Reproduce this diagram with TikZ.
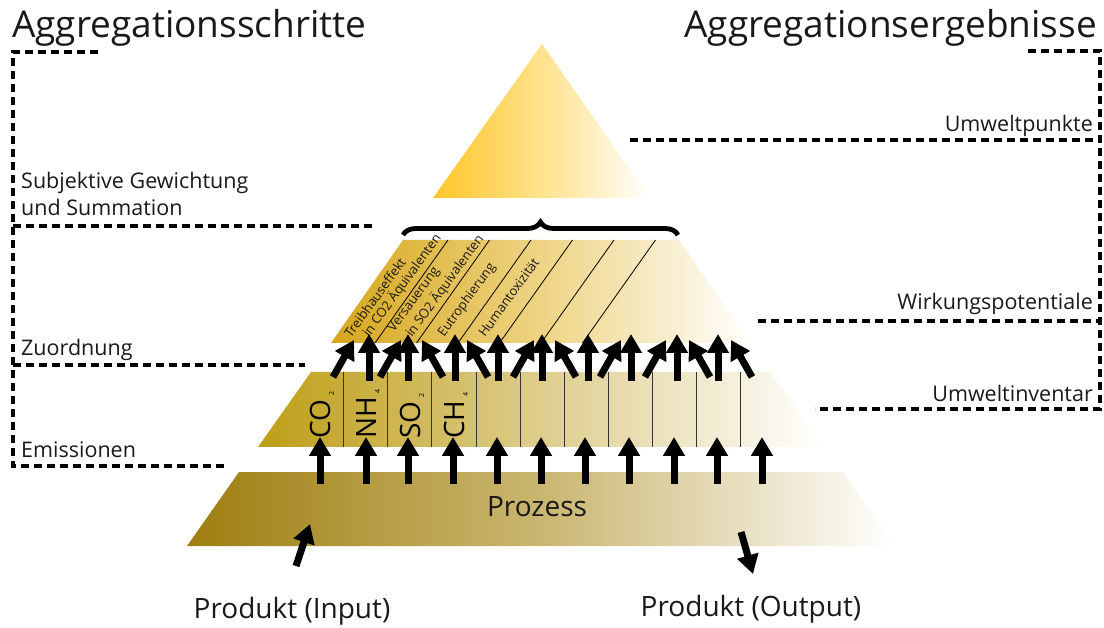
\documentclass[tikz,border=0pt]{standalone}
\usepackage{fontspec}
\setmainfont{Open Sans}
\usetikzlibrary{arrows.meta,decorations.pathreplacing}
\definecolor{topL}{RGB}{255,198,40}
\definecolor{topM}{RGB}{255,226,140}
\definecolor{midL}{RGB}{214,166,28}
\definecolor{midM}{RGB}{238,212,132}
\definecolor{emiL}{RGB}{190,158,22}
\definecolor{emiM}{RGB}{222,205,140}
\definecolor{proL}{RGB}{158,126,16}
\definecolor{proM}{RGB}{202,182,112}
\definecolor{txt}{RGB}{25,25,25}
\begin{document}
\begin{tikzpicture}[x=1pt,y=-1pt,
  dsh/.style={line width=3.6pt, dash pattern=on 8pt off 5pt},
  arr/.style={line width=7pt, -{Triangle[width=21pt,length=19pt]}},
  divl/.style={line width=0.9pt, black!80},
  lbl/.style={font=\fontsize{21.5}{23}\selectfont, text=txt, inner sep=0pt},
  ttl/.style={font=\fontsize{37}{40}\selectfont, text=txt, inner sep=0pt},
  big/.style={font=\fontsize{28}{30}\selectfont, text=txt, inner sep=0pt},
  chem/.style={font=\fontsize{28}{30}\selectfont, rotate=90, anchor=base west, inner sep=0pt},
  imp/.style={font=\fontsize{13}{14}\selectfont, text=txt, rotate=54, anchor=base west, inner sep=0pt}]
\useasboundingbox (0,0) rectangle (1104,628);

% titles
\node[ttl, anchor=base west] (t1) at (12,38) {Aggregationsschritte};
\node[ttl, anchor=base east] (t2) at (1097,38) {Aggregationsergebnisse};

% dashed frames left
\draw[dsh] (98,52) -- (13,52) -- (13,466) -- (228,466);
\draw[dsh] (13,226) -- (372,226);
\draw[dsh] (13,365) -- (305,365);
% dashed frames right
\draw[dsh] (1028,51) -- (1100,51) -- (1100,409) -- (815,409);
\draw[dsh] (630,140) -- (1100,140);
\draw[dsh] (758,321) -- (1100,321);

% side labels
\node[lbl, anchor=base west] (l1) at (21,189) {Subjektive Gewichtung};
\node[lbl, anchor=base west] (l2) at (21,216) {und Summation};
\node[lbl, anchor=base west] (l3) at (21,356) {Zuordnung};
\node[lbl, anchor=base west] (l4) at (21,457) {Emissionen};
\node[lbl, anchor=base east] (r1) at (1093,132) {Umweltpunkte};
\node[lbl, anchor=base east] (r2) at (1093,310) {Wirkungspotentiale};
\node[lbl, anchor=base east] (r3) at (1093,402) {Umweltinventar};

% top triangle
\shade[left color=topL, right color=white, middle color=topM] (542,44) -- (650,198) -- (433,198) -- cycle;

% brace
\draw[line width=4.8pt, decorate, decoration={brace, amplitude=13pt}] (403,235) -- (678,235);

% middle layer
\shade[left color=midL, right color=white, middle color=midM] (403,240) -- (679,240) -- (751,343) -- (331,343) -- cycle;
\foreach \b in {375,416.5,458,499.5,541,582.5}
  \draw[line width=0.8pt] (\b,343) -- (\b+73,240);
\node[imp] (w1) at (351,339) {Treibhauseffekt};
\node[imp] (w2) at (369,338) {in CO2 Äquivalenten};
\node[imp] (w3) at (394,333) {Versauerung};
\node[imp] (w4) at (412,338) {in SO2 Äquivalenten};
\node[imp] (w5) at (444,338) {Eutrophierung};
\node[imp] (w6) at (485,338) {Humantoxizität};

% emission layer
\shade[left color=emiL, right color=white, middle color=emiM] (311,372) -- (770,372) -- (823,447) -- (258,447) -- cycle;
\foreach \d in {343,387.5,431,476,520,564,608,652,696,740}
  \draw[divl] (\d,372) -- (\d,447);
\node[chem] (c1) at (330,439) {CO\hspace{4pt}\raisebox{-4pt}{\fontsize{7}{7}\selectfont 2}};
\node[chem] (c2) at (376,439) {NH\hspace{4pt}\raisebox{-4pt}{\fontsize{7}{7}\selectfont 4}};
\node[chem] (c3) at (420,439) {SO\hspace{4pt}\raisebox{-4pt}{\fontsize{7}{7}\selectfont 2}};
\node[chem] (c4) at (464,439) {CH\hspace{4pt}\raisebox{-4pt}{\fontsize{7}{7}\selectfont 4}};

% process layer
\shade[left color=proL, right color=white, middle color=proM] (239,472) -- (843,472) -- (895,546) -- (187,546) -- cycle;
\node[big, anchor=base] (p) at (537,516) {Prozess};

% arrows process -> emissions
\foreach \x in {320,366,408,453,497,541,585,629,674,717,762}
  \draw[arr] (\x,484) -- (\x,437);

% arrows emissions -> impacts (vertical)
\foreach \x in {369,408,455,498,542,588,631,677,718}
  \draw[arr] (\x,381) -- (\x,334);
% diagonal ones
\foreach \x/\t in {333/354,380/401,443/422,488/467,513/534,576/555,600/621,645/666,710/689,752/731}
  \draw[arr] (\x,377) -- (\t,340);

% input / output
\coordinate (inA) at (296,566);
\coordinate (inB) at (310,524);
\coordinate (outA) at (741,532);
\coordinate (outB) at (753,574);
\draw[arr] (inA) -- (inB);
\draw[arr] (outA) -- (outB);
\node[big, anchor=base] (pi) at (292,618) {Produkt (Input)};
\node[big, anchor=base] (po) at (751,616) {Produkt (Output)};
\end{tikzpicture}
\end{document}
